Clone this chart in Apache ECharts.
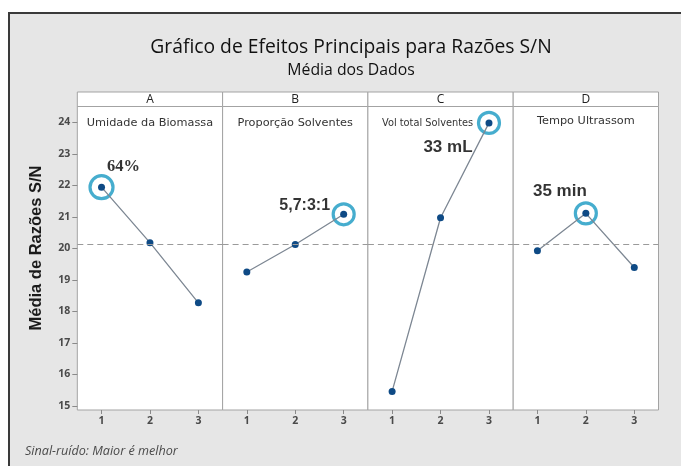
<!DOCTYPE html>
<html>
<head>
<meta charset="utf-8">
<script src="https://cdn.jsdelivr.net/npm/echarts@6/dist/echarts.min.js"></script>
<style>
  html, body { margin: 0; padding: 0; background: #fff; }
  #chart { width: 681px; height: 466px; }
</style>
</head>
<body>
<div id="chart"></div>
<script>
// níveis de cada fator
const levels = ['1', '2', '3']
const factorLetters = ['A', 'B', 'C', 'D']
const factorNames = ['Umidade da Biomassa', 'Proporção Solventes', 'Vol total Solventes', 'Tempo Ultrassom']

// médias das razões S/N por nível
const meansA = [21.94, 20.18, 18.27]
const meansB = [19.25, 20.12, 21.08]
const meansC = [15.46, 20.97, 23.98]
const meansD = [19.92, 21.11, 19.39]
const grandMean = 20.14

// melhor nível (índice) e rótulo destacado de cada fator
const bestLevel = [0, 2, 2, 1]
const bestLabels = ['64%', '5,7:3:1', '33 mL', '35 min']

const yTicks = [15, 16, 17, 18, 19, 20, 21, 22, 23, 24]

const allMeans = [meansA, meansB, meansC, meansD]

// layout dos painéis
const panelLeft = 77.3
const panelW = 145.3
const panelTop = 106.5
const panelH = 303.5
const stripTop = 92

// estilo das anotações (offset relativo ao ponto destacado)
const annoStyle = [
  { offset: [22, -20], fontFamily: 'Liberation Serif', fontSize: 16.5 },
  { offset: [-39, -9], fontFamily: 'Liberation Sans', fontSize: 16 },
  { offset: [-41, 24], fontFamily: 'Liberation Sans', fontSize: 17 },
  { offset: [-26, -22], fontFamily: 'Liberation Sans', fontSize: 17 }
]

const grids = []
const xAxes = []
const yAxes = []
const series = []
const graphics = []

// fundo: margens brancas e borda escura da moldura
graphics.push({ type: 'rect', shape: { x: 0, y: 0, width: 681, height: 12 }, style: { fill: '#fff' } })
graphics.push({ type: 'rect', shape: { x: 0, y: 0, width: 8, height: 466 }, style: { fill: '#fff' } })
graphics.push({ type: 'polyline', shape: { points: [[9, 466], [9, 13], [681, 13]] }, style: { stroke: '#3a3a3a', lineWidth: 2, fill: null } })

factorLetters.forEach((letter, i) => {
  const left = panelLeft + i * panelW
  grids.push({
    left: left,
    top: panelTop,
    width: panelW,
    height: panelH,
    show: true,
    backgroundColor: '#ffffff',
    borderColor: '#a3a3a3',
    borderWidth: 1
  })
  xAxes.push({
    gridIndex: i,
    type: 'category',
    data: levels,
    boundaryGap: true,
    axisLine: { show: false },
    axisTick: { show: true, alignWithLabel: true, length: 4, lineStyle: { color: '#8a8a8a' } },
    axisLabel: { margin: 6, fontSize: 10.5, fontWeight: 'bold', color: '#4a4a4a', fontFamily: 'Open Sans' },
    splitLine: { show: false }
  })
  yAxes.push({
    gridIndex: i,
    type: 'value',
    min: 14.87,
    max: 24.5,
    axisLine: { show: false },
    splitLine: { show: false },
    axisTick: {
      show: i === 0,
      length: 5,
      customValues: yTicks,
      lineStyle: { color: '#8a8a8a' }
    },
    axisLabel: {
      show: i === 0,
      margin: 7,
      customValues: yTicks,
      fontSize: 10.5,
      fontWeight: 'bold',
      color: '#4a4a4a',
      fontFamily: 'Open Sans'
    }
  })

  // linha das médias
  series.push({
    type: 'line',
    xAxisIndex: i,
    yAxisIndex: i,
    data: allMeans[i],
    symbol: 'circle',
    symbolSize: 7,
    itemStyle: { color: '#0e4a85' },
    lineStyle: { color: '#7d8793', width: 1.3 },
    z: 3,
    markLine: {
      silent: true,
      symbol: 'none',
      label: { show: false },
      lineStyle: { color: '#9a9a9a', type: [6, 4], width: 1.2 },
      data: [{ yAxis: grandMean }]
    }
  })

  // círculo de destaque + anotação
  const b = bestLevel[i]
  const st = annoStyle[i]
  series.push({
    type: 'scatter',
    xAxisIndex: i,
    yAxisIndex: i,
    data: [[levels[b], allMeans[i][b]]],
    symbol: 'circle',
    symbolSize: i === 0 ? 23 : 21,
    itemStyle: { color: 'rgba(0,0,0,0)', borderColor: '#1898c2', borderWidth: 3.2 },
    z: 2,
    label: {
      show: true,
      position: 'inside',
      offset: st.offset,
      formatter: bestLabels[i],
      fontFamily: st.fontFamily,
      fontSize: st.fontSize,
      fontWeight: 'bold',
      color: '#000',
      textBorderWidth: 0
    }
  })

  // faixa do cabeçalho (A, B, C, D)
  graphics.push({
    type: 'rect',
    shape: { x: left, y: stripTop, width: panelW, height: panelTop - stripTop },
    style: { fill: '#fff', stroke: '#a3a3a3', lineWidth: 1 }
  })
  graphics.push({
    type: 'text',
    x: left + panelW / 2,
    y: stripTop + (panelTop - stripTop) / 2 + 0.5,
    style: { text: letter, align: 'center', verticalAlign: 'middle', fontSize: 12, fontFamily: 'Open Sans', fill: '#222' }
  })
  // nome do fator dentro do painel
  const small = i === 2
  graphics.push({
    type: 'text',
    x: small ? 382 : left + panelW / 2,
    y: i === 3 ? 121 : 123,
    z: 10,
    style: {
      text: factorNames[i],
      align: small ? 'left' : 'center',
      verticalAlign: 'middle',
      fontSize: small ? 9.8 : 11.3,
      fontFamily: 'DejaVu Sans',
      fill: '#333'
    }
  })
})

// títulos e rótulos
graphics.push({
  type: 'text', x: 351, y: 48,
  style: { text: 'Gráfico de Efeitos Principais para Razões S/N', align: 'center', verticalAlign: 'middle', fontSize: 19.3, fontFamily: 'Open Sans', fill: '#111' }
})
graphics.push({
  type: 'text', x: 351, y: 70,
  style: { text: 'Média dos Dados', align: 'center', verticalAlign: 'middle', fontSize: 15.8, fontFamily: 'Open Sans', fill: '#111' }
})
graphics.push({
  type: 'text', x: 36, y: 248, rotation: Math.PI / 2,
  style: { text: 'Média de Razões S/N', align: 'center', verticalAlign: 'middle', fontSize: 16.5, fontWeight: 'bold', fontFamily: 'Liberation Sans', fill: '#1a1a1a' }
})
graphics.push({
  type: 'text', x: 25, y: 451,
  style: { text: 'Sinal-ruído: Maior é melhor', align: 'left', verticalAlign: 'middle', fontSize: 12.6, fontStyle: 'italic', fontFamily: 'Open Sans', fill: '#4a4a4a' }
})

const chart = echarts.init(document.getElementById('chart'))
chart.setOption({
  backgroundColor: '#e6e6e6',
  animation: false,
  grid: grids,
  xAxis: xAxes,
  yAxis: yAxes,
  series: series,
  graphic: { elements: graphics }
})
</script>
</body>
</html>
